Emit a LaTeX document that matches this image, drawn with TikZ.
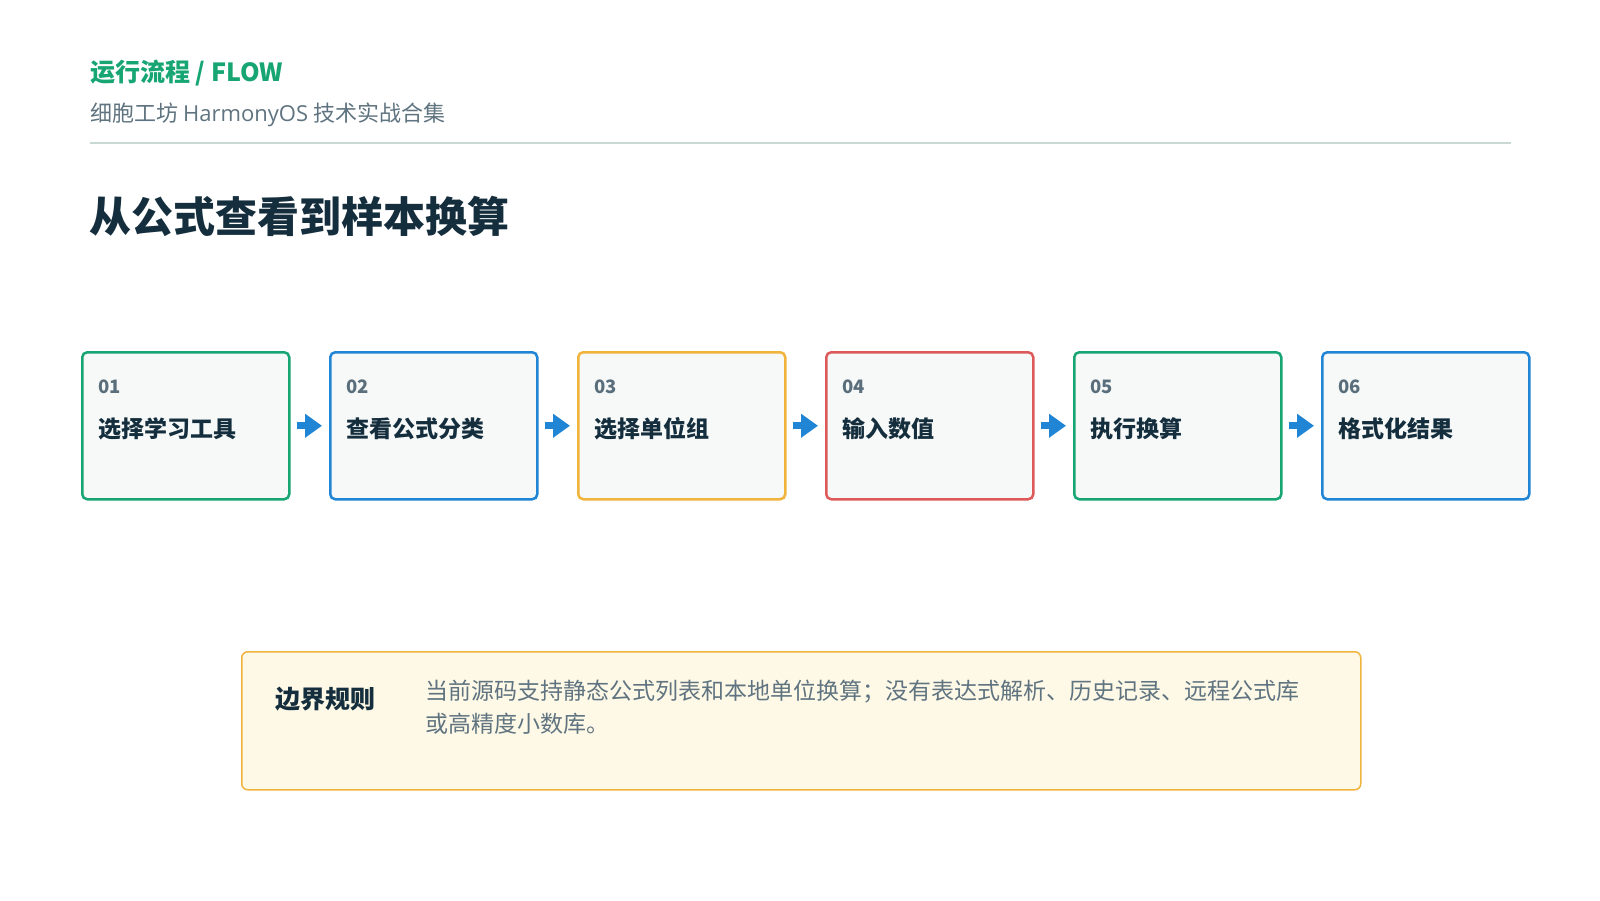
\documentclass[tikz,border=0pt]{standalone}
\usepackage{fontspec}
\setmainfont{Noto Sans CJK SC}
\setsansfont{Noto Sans CJK SC}
\usetikzlibrary{arrows.meta,positioning}
\definecolor{cgreen}{HTML}{17A673}
\definecolor{cblue}{HTML}{2185D5}
\definecolor{corange}{HTML}{F0B43C}
\definecolor{cred}{HTML}{DE5A5A}
\definecolor{cfill}{HTML}{F6F9F8}
\definecolor{cnum}{HTML}{5A6E7C}
\definecolor{cdark}{HTML}{152E3D}
\definecolor{csub}{HTML}{5F7480}
\definecolor{cline}{HTML}{C8D8D4}
\definecolor{cnote}{HTML}{FEF8E6}
\tikzset{
  stepbox/.style={draw=#1, line width=2.5pt, fill=cfill, rounded corners=5pt,
    minimum width=207pt, minimum height=147pt, inner sep=0pt},
  numtxt/.style={anchor=west, inner sep=0pt, text=cnum, font=\bfseries\fontsize{18.5}{20}\selectfont},
  steptxt/.style={anchor=west, inner sep=0pt, text=cdark, font=\bfseries\fontsize{23}{26}\selectfont},
  flowarr/.style={draw=cblue, line width=7pt, -{Triangle[length=17pt,width=23pt]}, shorten <=6pt, shorten >=7pt},
}
\begin{document}
\begin{tikzpicture}[x=1pt,y=-1pt]
\useasboundingbox[fill=white] (0,0) rectangle (1600,900);
% header
\node[anchor=west, inner sep=0pt, text=cgreen, font=\bfseries\fontsize{25}{28}\selectfont] (hdr) at (90,73) {运行流程 / FLOW};
\node[anchor=west, inner sep=0pt, text=csub, font=\fontsize{22}{25}\selectfont] (sub) at (90,115) {细胞工坊 \fontspec{Open Sans}HarmonyOS\ \fontspec{Noto Sans CJK SC}技术实战合集};
\coordinate (l1) at (90,143);
\coordinate (l2) at (1511,143);
\draw[cline, line width=1.5pt] (l1) -- (l2);
\node[anchor=west, inner sep=0pt, text=cdark, font=\bfseries\fontsize{42}{46}\selectfont] (title) at (89,216) {从公式查看到样本换算};
% steps
\foreach \i/\x/\c/\n/\t in {1/81/cgreen/01/选择学习工具, 2/329/cblue/02/查看公式分类, 3/577/corange/03/选择单位组, 4/825/cred/04/输入数值, 5/1073/cgreen/05/执行换算, 6/1321/cblue/06/格式化结果}{
  \node[stepbox=\c, anchor=north west] (b\i) at (\x,351) {};
  \node[numtxt] (n\i) at (\x+17,387) {\n};
  \node[steptxt] (t\i) at (\x+17,429) {\t};
}
\foreach \a/\b in {1/2,2/3,3/4,4/5,5/6}{
  \draw[flowarr] (b\a) -- (b\b);
}
% note
\node[draw=corange, line width=1.5pt, fill=cnote, rounded corners=6pt, anchor=north west,
  minimum width=1119pt, minimum height=138pt, inner sep=0pt] (note) at (241,651) {};
\node[anchor=west, inner sep=0pt, text=cdark, font=\bfseries\fontsize{25}{28}\selectfont] (nt) at (275,699) {边界规则};
\node[anchor=north west, inner sep=0pt, text=csub, align=left, font=\fontsize{23}{33}\selectfont] (nb) at (425,680) {当前源码支持静态公式列表和本地单位换算；没有表达式解析、历史记录、远程公式库\\或高精度小数库。};
\end{tikzpicture}
\end{document}
